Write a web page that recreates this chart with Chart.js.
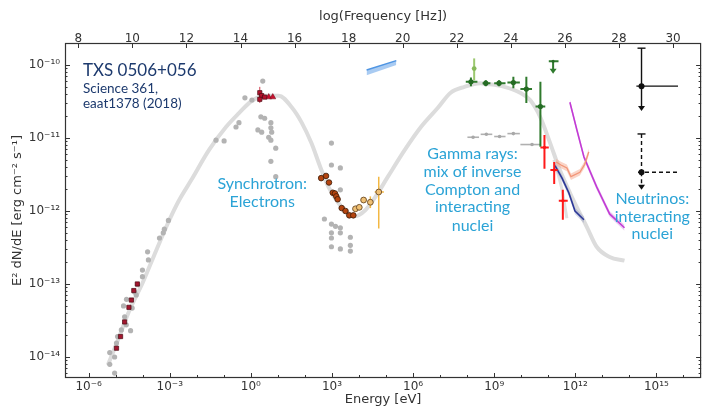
<!DOCTYPE html>
<html>
<head>
<meta charset="utf-8">
<script src="https://cdn.jsdelivr.net/npm/chart.js@4.4.1/dist/chart.umd.min.js"></script>
<style>
  html, body { margin: 0; padding: 0; background: #fff; }
</style>
</head>
<body>
<canvas id="sed" width="706" height="406"></canvas>
<script>
"use strict";

// 軸の範囲 (すべて log10)
const X_MIN = -6.875, X_MAX = 16.654;
const Y_MIN = -14.288, Y_MAX = -9.699;
// log10(h [eV s]) : E → ν の変換
const LOG_H = 14.383;

// 目盛り
const energyTicks = [-6, -3, 0, 3, 6, 9, 12, 15];
const freqTicks = [8, 10, 12, 14, 16, 18, 20, 22, 24, 26, 28, 30];
const fluxTicks = [-14, -13, -12, -11, -10];

// モデル曲線 (灰色の太線) log10 E[eV], log10 E²dN/dE
const modelE = [-5.29, -4.96, -4.49, -4.01, -3.49, -3.01, -2.65, -2.21, -1.54, -0.92, -0.44, 0.04, 0.55, 1.03,
  1.51, 1.88, 2.24, 2.57, 2.87, 3.24, 3.60, 3.86, 4.23, 4.60, 5.07, 5.70, 6.29, 6.91, 7.39, 7.90, 8.49,
  8.75, 9.38, 9.96, 10.33, 10.70, 11.07, 11.43, 11.80, 12.06, 12.43, 12.79, 13.27, 13.82];
const modelF = [-14.11, -13.81, -13.36, -12.99, -12.53, -12.12, -11.85, -11.58, -11.16, -10.85, -10.66, -10.49,
  -10.42, -10.42, -10.58, -10.79, -11.07, -11.40, -11.67, -11.89, -12.03, -12.07, -11.99, -11.81, -11.53,
  -11.16, -10.85, -10.59, -10.38, -10.30, -10.25, -10.26, -10.30, -10.38, -10.48, -10.71, -11.07, -11.44,
  -11.75, -11.95, -12.22, -12.49, -12.63, -12.68];
// 別モデルの急な落ち込み
const model2E = [11.21, 11.51, 11.69];
const model2F = [-11.30, -11.71, -12.10];

// アーカイブデータ (灰色の点)
const archE = [-3.05, -3.20, -3.24, -3.38, -3.82, -3.79, -4.01, -4.01, -4.19, -4.30, -4.24, -4.60, -4.71, -4.39,
  -4.67, -4.61, -4.45, -4.79, -4.93, -4.97, -5.22, -5.04, -5.22, -5.04,
  0.44, -0.22, 0.04, -0.44, -0.55, -1.29, -0.99, 0.37, 0.51, 0.74, 0.74, 0.26, 0.40, 0.77, 0.66, 0.74, 0.92,
  0.74, 0.92,
  2.98, 2.98, 3.31, 3.31, 2.72, 2.98, 3.13, 3.31, 2.98, 3.31, 3.68, 2.98, 3.68, 2.98, 3.31, 3.68];
const archF = [-12.13, -12.25, -12.30, -12.37, -12.56, -12.67, -12.81, -12.90, -13.01, -13.11, -13.15, -13.21,
  -13.30, -13.33, -13.45, -13.56, -13.64, -13.63, -13.72, -13.81, -13.94, -14.00, -14.10, -14.22,
  -10.22, -10.45, -10.48, -10.79, -10.85, -11.03, -11.04, -10.71, -10.73, -10.79, -10.86, -10.89, -10.92,
  -10.92, -10.99, -11.03, -11.14, -11.32, -11.53,
  -11.07, -11.37, -11.41, -11.71, -12.11, -12.18, -12.21, -12.23, -12.30, -12.30, -12.36, -12.37, -12.47,
  -12.49, -12.52, -12.55];

// 電波 (赤い四角)
const radioE = [-4.20, -4.33, -4.42, -4.51, -4.67, -4.82, -4.97];
const radioF = [-13.00, -13.09, -13.22, -13.32, -13.52, -13.72, -13.88];

// 可視・紫外 (ピーク付近)
const optE = [0.33, 0.40, 0.33, 0.51];
const optF = [-10.38, -10.42, -10.47, -10.44];
const optFLo = [-10.52, null, null, null];
const optFHi = [-10.30, null, null, null];
const uvE = [0.66, 0.81];
const uvF = [-10.44, -10.44];

// X線 Swift-XRT (茶色)
const xrtE = [2.60, 2.78, 2.89, 3.03, 3.11, 3.16, 3.21, 3.36, 3.50, 3.64, 3.79];
const xrtF = [-11.55, -11.52, -11.61, -11.75, -11.76, -11.80, -11.84, -11.96, -12.00, -12.06, -12.06];

// 硬X線 NuSTAR (薄橙)
const nuE = [3.87, 4.01, 4.17, 4.42, 4.73];
const nuF = [-11.97, -11.95, -11.85, -11.88, -11.74];
const nuELo = [null, null, null, null, 4.58];
const nuEHi = [null, null, null, null, 4.92];
const nuFLo = [null, null, null, -11.96, -12.24];
const nuFHi = [null, null, null, -11.80, -11.53];

// MAXI 帯 (青)
const maxiE = [4.28, 5.38];
const maxiFHi = [-10.07, -9.94];
const maxiFLo = [-10.14, -10.00];

// Fermi-LAT (緑)
const fermiE = [8.14, 8.69, 9.18, 9.71, 10.19, 10.71];
const fermiF = [-10.23, -10.25, -10.25, -10.24, -10.33, -10.57];
const fermiELo = [7.95, 8.57, 9.00, 9.49, 9.97, 10.53];
const fermiEHi = [8.38, 8.86, 9.42, 9.95, 10.40, 10.89];
const fermiFLo = [-10.29, -10.29, -10.29, -10.32, -10.52, -11.12];
const fermiFHi = [-10.17, -10.21, -10.21, -10.16, -10.16, -10.23];
// Fermi 上限値
const fermiUlE = [11.18];
const fermiUlF = [-9.95];
const fermiUlELo = [11.02];
const fermiUlEHi = [11.38];
const fermiUlTip = [-10.12];
// Fermi 別期間 (黄緑)
const fermi2E = [8.26];
const fermi2F = [-10.05];
const fermi2FLo = [-10.21];
const fermi2FHi = [-9.91];

// 別期間のガンマ線 (灰色の横棒)
const gammaE = [8.22, 8.71, 9.20, 9.71, 10.40];
const gammaF = [-10.99, -10.95, -10.98, -10.94, -11.09];
const gammaELo = [8.01, 8.50, 9.00, 9.49, 9.97];
const gammaEHi = [8.44, 8.93, 9.42, 9.95, 10.70];

// MAGIC (赤)
const magicE = [10.86, 11.22, 11.54];
const magicF = [-11.13, -11.44, -11.86];
const magicELo = [10.71, 11.08, 11.39];
const magicEHi = [11.02, 11.35, 11.72];
const magicFLo = [-11.42, -11.63, -12.12];
const magicFHi = [-10.96, -11.33, -11.71];

// 上限の帯 (サーモン)
const salmonE = [11.29, 11.47, 11.69, 11.84, 12.17, 12.35, 12.50];
const salmonF = [-11.33, -11.37, -11.41, -11.53, -11.47, -11.36, -11.19];
// 紺の帯
const navyE = [11.25, 11.51, 11.76, 11.99, 12.32];
const navyF = [-11.38, -11.55, -11.75, -12.00, -12.12];
// ニュートリノ上限 (紫)
const iceE = [11.80, 12.06, 12.32, 12.79, 13.27, 13.82];
const iceF = [-10.51, -10.89, -11.26, -11.67, -12.04, -12.23];

// ニュートリノ (黒)
const nuSolidE = [14.45];
const nuSolidF = [-10.29];
const nuSolidELo = [14.26];
const nuSolidEHi = [15.80];
const nuSolidCap = [-9.77];
const nuSolidTip = [-10.63];
const nuDashE = [14.45];
const nuDashF = [-11.47];
const nuDashELo = [14.32];
const nuDashEHi = [15.80];
const nuDashCap = [-10.945];
const nuDashTip = [-11.71];

// 色
const NAVY_TEXT = "#1d3a6e";
const NOTE_BLUE = "#2ba3d6";
const AXIS = "#333333";

const SUP = { "-": "\u207B", "0": "\u2070", "1": "\u00B9", "2": "\u00B2", "3": "\u00B3",
  "4": "\u2074", "5": "\u2075", "6": "\u2076", "7": "\u2077", "8": "\u2078", "9": "\u2079" };
const pow10 = v => "10" + String(v).split("").map(c => SUP[c]).join("");

const pts = (xs, ys) => xs.map((v, i) => ({ x: v, y: ys[i] }));
const offset = (ys, d) => ys.map(v => v + d);
const errs = (xLo, xHi, yLo, yHi, extra) => xLo.map((_, i) => Object.assign({
  xLo: xLo[i], xHi: xHi[i], yLo: yLo[i], yHi: yHi[i]
}, extra ? extra(i) : {}));
const nulls = n => new Array(n).fill(null);

/*
 * 誤差棒・上限矢印
 */
const errorBars = {
  id: "errorBars",
  beforeDatasetDraw(chart, args) {
    const ds = chart.data.datasets[args.index];
    if (!ds.errors) return;
    const { ctx } = chart;
    const sx = chart.scales.x, sy = chart.scales.y;
    ctx.save();
    ctx.strokeStyle = ds.errorColor;
    ctx.fillStyle = ds.errorColor;
    ctx.lineWidth = ds.errorWidth || 1.5;
    ds.errors.forEach((e, i) => {
      const p = ds.data[i];
      const px = sx.getPixelForValue(p.x), py = sy.getPixelForValue(p.y);
      ctx.setLineDash(ds.errorDash || []);
      ctx.beginPath();
      if (e.xLo != null) {
        ctx.moveTo(sx.getPixelForValue(e.xLo), py);
        ctx.lineTo(sx.getPixelForValue(e.xHi), py);
      }
      if (e.yLo != null) {
        ctx.moveTo(px, sy.getPixelForValue(e.yLo));
        ctx.lineTo(px, sy.getPixelForValue(e.yHi));
      }
      if (e.cap != null) {
        ctx.moveTo(px, sy.getPixelForValue(e.cap));
        ctx.lineTo(px, py);
      }
      if (e.tip != null) {
        ctx.moveTo(px, py);
        ctx.lineTo(px, sy.getPixelForValue(e.tip) - 3);
      }
      ctx.stroke();
      ctx.setLineDash([]);
      if (e.cap != null) {
        const cy = sy.getPixelForValue(e.cap);
        ctx.beginPath();
        ctx.moveTo(px - 4, cy);
        ctx.lineTo(px + 4, cy);
        ctx.stroke();
      }
      if (e.tip != null) {
        const ty = sy.getPixelForValue(e.tip);
        ctx.beginPath();
        ctx.moveTo(px - 3.5, ty - 5);
        ctx.lineTo(px + 3.5, ty - 5);
        ctx.lineTo(px, ty);
        ctx.closePath();
        ctx.fill();
      }
    });
    ctx.restore();
  }
};

/*
 * 枠と内向きの目盛り
 */
const frameTicks = {
  id: "frameTicks",
  afterDraw(chart) {
    const { ctx, chartArea: a } = chart;
    const sx = chart.scales.x, sy = chart.scales.y, st = chart.scales.x2;
    ctx.save();
    ctx.strokeStyle = AXIS;
    ctx.lineWidth = 1;
    ctx.beginPath();
    // 下軸: 3桁ごとに主目盛り、1桁ごとに副目盛り
    for (let d = Math.ceil(X_MIN); d <= X_MAX; d++) {
      const px = Math.round(sx.getPixelForValue(d)) + 0.5;
      const len = energyTicks.includes(d) ? 5 : 3;
      ctx.moveTo(px, a.bottom);
      ctx.lineTo(px, a.bottom - len);
    }
    // 上軸
    freqTicks.forEach(v => {
      const px = Math.round(st.getPixelForValue(v)) + 0.5;
      ctx.moveTo(px, a.top);
      ctx.lineTo(px, a.top + 5);
    });
    // 左右の軸
    for (let d = -15; d <= -10; d++) {
      for (let k = 1; k <= 9; k++) {
        const v = d + Math.log10(k);
        if (v < Y_MIN || v > Y_MAX) continue;
        const py = Math.round(sy.getPixelForValue(v)) + 0.5;
        const len = k === 1 ? 5 : 2.5;
        ctx.moveTo(a.left, py);
        ctx.lineTo(a.left + len, py);
        ctx.moveTo(a.right, py);
        ctx.lineTo(a.right - len, py);
      }
    }
    ctx.stroke();
    ctx.lineWidth = 1.2;
    ctx.strokeRect(a.left + 0.5, a.top + 0.5, a.right - a.left - 1, a.bottom - a.top - 1);
    ctx.restore();
  }
};

// 注記テキスト
const notes = [
  { text: "TXS 0506+056", x: -6.21, y: -10.07, size: 17, color: NAVY_TEXT, align: "left" },
  { text: "Science 361,", x: -6.21, y: -10.32, size: 13.5, color: NAVY_TEXT, align: "left" },
  { text: "eaat1378 (2018)", x: -6.21, y: -10.53, size: 13.5, color: NAVY_TEXT, align: "left" },
  { text: "Synchrotron:", x: 0.42, y: -11.63, size: 16, color: NOTE_BLUE, align: "center" },
  { text: "Electrons", x: 0.42, y: -11.87, size: 16, color: NOTE_BLUE, align: "center" },
  { text: "Gamma rays:", x: 8.20, y: -11.22, size: 16, color: NOTE_BLUE, align: "center" },
  { text: "mix of inverse", x: 8.20, y: -11.47, size: 16, color: NOTE_BLUE, align: "center" },
  { text: "Compton and", x: 8.20, y: -11.71, size: 16, color: NOTE_BLUE, align: "center" },
  { text: "interacting", x: 8.20, y: -11.95, size: 16, color: NOTE_BLUE, align: "center" },
  { text: "nuclei", x: 8.20, y: -12.20, size: 16, color: NOTE_BLUE, align: "center" },
  { text: "Neutrinos:", x: 14.85, y: -11.84, size: 16, color: NOTE_BLUE, align: "center" },
  { text: "interacting", x: 14.85, y: -12.08, size: 16, color: NOTE_BLUE, align: "center" },
  { text: "nuclei", x: 14.85, y: -12.32, size: 16, color: NOTE_BLUE, align: "center" }
];

const noteText = {
  id: "noteText",
  afterDatasetsDraw(chart) {
    const { ctx } = chart;
    const sx = chart.scales.x, sy = chart.scales.y;
    ctx.save();
    ctx.textBaseline = "middle";
    notes.forEach(n => {
      ctx.font = n.size + "px Lato, 'Open Sans', sans-serif";
      ctx.fillStyle = n.color;
      ctx.textAlign = n.align;
      ctx.fillText(n.text, sx.getPixelForValue(n.x), sy.getPixelForValue(n.y));
    });
    ctx.restore();
  }
};

const axisFont = { family: "'DejaVu Sans', sans-serif", size: 12 };
const titleFont = { family: "'DejaVu Sans', sans-serif", size: 13, lineHeight: 1 };
const noGrid = { display: false, drawTicks: false };

const line = (label, xs, ys, color, width, order, extra) => Object.assign({
  label, data: pts(xs, ys), borderColor: color, borderWidth: width, pointRadius: 0,
  showLine: true, fill: false, order
}, extra || {});

const dots = (label, xs, ys, style, order, extra) => Object.assign({
  label, data: pts(xs, ys), showLine: false, order,
  pointStyle: style.shape || "circle", pointRadius: style.r || 2.5,
  backgroundColor: style.fill, borderColor: style.edge || style.fill, borderWidth: style.edgeWidth || 0
}, extra || {});

const datasets = [
  // モデル曲線
  line("model", modelE, modelF, "#dcdcdc", 4, 20, { cubicInterpolationMode: "monotone" }),
  line("model2", model2E, model2F, "#e0e0e0", 3, 20, { cubicInterpolationMode: "monotone" }),
  // MAXI 帯
  line("maxiLo", maxiE, maxiFLo, "rgba(0,0,0,0)", 0, 15),
  line("maxiHi", maxiE, maxiFHi, "#4f95e3", 1.5, 15, { fill: "-1", backgroundColor: "#a9cbf2" }),
  // アーカイブ
  dots("archive", archE, archF, { fill: "#b3b3b3", r: 2.6 }, 14),
  dots("gammaOld", gammaE, gammaF, { fill: "#a8a8a8", r: 1.8 }, 13, {
    errors: errs(gammaELo, gammaEHi, nulls(5), nulls(5)), errorColor: "#b0b0b0", errorWidth: 1.6
  }),
  // 電波・可視
  dots("radio", radioE, radioF, { shape: "rect", r: 3, fill: "#a3162f", edge: "#4a0a12", edgeWidth: 0.7 }, 9),
  dots("optical", optE, optF, { shape: "rect", r: 3, fill: "#b3122d", edge: "#4a0a12", edgeWidth: 0.7 }, 8, {
    errors: errs(nulls(4), nulls(4), optFLo, optFHi), errorColor: "#d04050", errorWidth: 1
  }),
  dots("uv", uvE, uvF, { shape: "triangle", r: 3.5, fill: "#c8102e", edge: "#6a0a18", edgeWidth: 0.5 }, 8),
  // X線
  dots("xrt", xrtE, xrtF, { r: 2.8, fill: "#b4440f", edge: "#3a1a08", edgeWidth: 0.8 }, 9),
  dots("nustar", nuE, nuF, { r: 2.9, fill: "#efc074", edge: "#6b4a24", edgeWidth: 0.9 }, 8, {
    errors: errs(nuELo, nuEHi, nuFLo, nuFHi), errorColor: "#f3b843", errorWidth: 1.5
  }),
  // ガンマ線の帯
  line("salmonLo", salmonE, offset(salmonF, -0.045), "rgba(0,0,0,0)", 0, 12),
  line("salmonHi", salmonE, offset(salmonF, 0.045), "rgba(0,0,0,0)", 0, 12,
    { fill: "-1", backgroundColor: "rgba(244,160,130,0.45)" }),
  line("salmon", salmonE, salmonF, "#f29577", 1.3, 11),
  line("navyLo", navyE, offset(navyF, -0.045), "rgba(0,0,0,0)", 0, 12),
  line("navyHi", navyE, offset(navyF, 0.045), "rgba(0,0,0,0)", 0, 12,
    { fill: "-1", backgroundColor: "rgba(130,140,190,0.35)" }),
  line("navy", navyE, navyF, "#2b3796", 1.6, 11),
  line("iceLo", iceE, offset(iceF, -0.04), "rgba(0,0,0,0)", 0, 12),
  line("iceHi", iceE, offset(iceF, 0.04), "rgba(0,0,0,0)", 0, 12,
    { fill: "-1", backgroundColor: "rgba(205,130,225,0.4)" }),
  line("ice", iceE, iceF, "#c23bd4", 1.6, 11),
  // Fermi-LAT
  dots("fermi", fermiE, fermiF, { r: 2.6, fill: "#256b24" }, 5, {
    errors: errs(fermiELo, fermiEHi, fermiFLo, fermiFHi), errorColor: "#2f7a2d", errorWidth: 2
  }),
  dots("fermi2", fermi2E, fermi2F, { r: 2.4, fill: "#86b95a" }, 5, {
    errors: errs(nulls(1), nulls(1), fermi2FLo, fermi2FHi), errorColor: "#9cc86f", errorWidth: 2
  }),
  dots("fermiUL", fermiUlE, fermiUlF, { r: 1.5, fill: "#256b24" }, 5, {
    errors: errs(fermiUlELo, fermiUlEHi, nulls(1), nulls(1), i => ({ tip: fermiUlTip[i] })),
    errorColor: "#2f7a2d", errorWidth: 2
  }),
  // MAGIC
  dots("magic", magicE, magicF, { r: 1.6, fill: "#ff1414" }, 4, {
    errors: errs(magicELo, magicEHi, magicFLo, magicFHi), errorColor: "#ff1a1a", errorWidth: 2
  }),
  // ニュートリノ
  dots("nuSolid", nuSolidE, nuSolidF, { r: 3, fill: "#111111" }, 3, {
    errors: errs(nuSolidELo, nuSolidEHi, nulls(1), nulls(1), i => ({ cap: nuSolidCap[i], tip: nuSolidTip[i] })),
    errorColor: "#111111", errorWidth: 1.4
  }),
  dots("nuDash", nuDashE, nuDashF, { r: 3, fill: "#111111" }, 3, {
    errors: errs(nuDashELo, nuDashEHi, nulls(1), nulls(1), i => ({ cap: nuDashCap[i], tip: nuDashTip[i] })),
    errorColor: "#111111", errorWidth: 1.4, errorDash: [4, 3]
  })
];

const config = {
  type: "line",
  data: { datasets },
  options: {
    responsive: false,
    devicePixelRatio: 1,
    animation: false,
    events: [],
    layout: { padding: { left: 0, right: 1, top: 0, bottom: 0 } },
    elements: { line: { tension: 0 } },
    plugins: {
      legend: { display: false },
      tooltip: { enabled: false }
    },
    scales: {
      x: {
        type: "linear", position: "bottom", min: X_MIN, max: X_MAX,
        afterBuildTicks: s => { s.ticks = energyTicks.map(v => ({ value: v })); },
        afterFit: s => { s.height = 28; },
        grid: noGrid, border: { display: false },
        ticks: { callback: v => pow10(v), font: axisFont, color: AXIS, padding: 2, maxRotation: 0, autoSkip: false },
        title: { display: true, text: "Energy [eV]", font: titleFont, color: AXIS, padding: 0 }
      },
      x2: {
        type: "linear", position: "top", min: X_MIN + LOG_H, max: X_MAX + LOG_H,
        afterBuildTicks: s => { s.ticks = freqTicks.map(v => ({ value: v })); },
        afterFit: s => { s.height = 43; },
        grid: noGrid, border: { display: false },
        ticks: { font: axisFont, color: AXIS, padding: -3, maxRotation: 0, autoSkip: false },
        title: { display: true, text: "log(Frequency [Hz])", font: titleFont, color: AXIS, padding: { top: 10, bottom: 0 } }
      },
      y: {
        type: "linear", position: "left", min: Y_MIN, max: Y_MAX,
        afterBuildTicks: s => { s.ticks = fluxTicks.map(v => ({ value: v })); },
        afterFit: s => { s.width = 65; },
        grid: noGrid, border: { display: false },
        ticks: { callback: v => pow10(v), font: axisFont, color: AXIS, padding: 5 },
        title: {
          display: true, text: "E\u00B2 dN/dE [erg cm\u207B\u00B2 s\u207B\u00B9]",
          font: { family: "'DejaVu Sans', sans-serif", size: 13, lineHeight: 1 }, color: AXIS, padding: { top: 11, bottom: 0 }
        }
      }
    }
  },
  plugins: [errorBars, noteText, frameTicks]
};

new Chart(document.getElementById("sed"), config);
</script>
</body>
</html>
